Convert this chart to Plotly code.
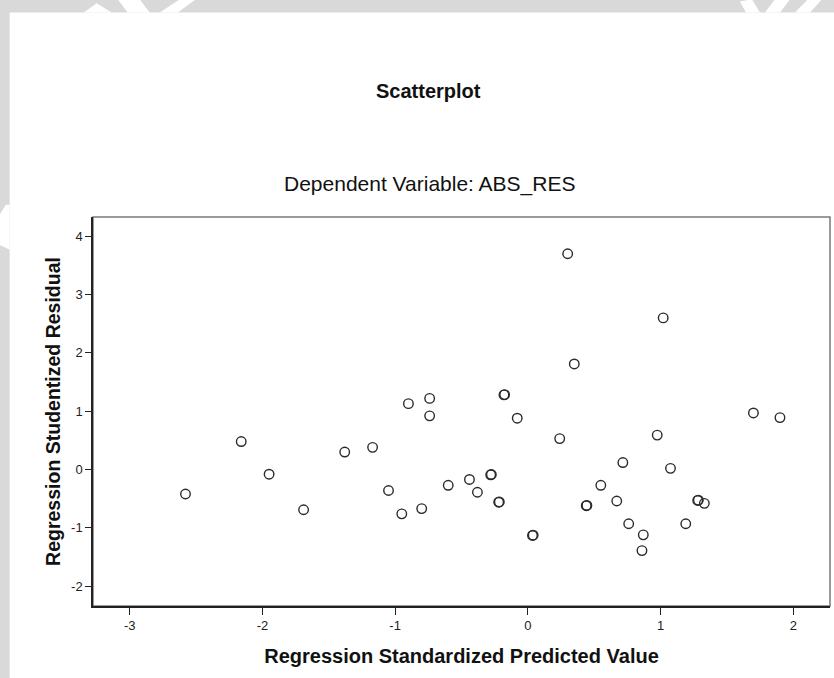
import plotly.graph_objects as go

# Data (x: standardized predicted, y: studentized residual)
pred_x = [-2.58, -2.16, -1.95, -1.69, -1.38, -1.17, -1.05, -0.95, -0.90, -0.74,
          -0.74, -0.80, -0.60, 0.30, 1.02, 0.35, -0.18, -0.08, 0.24, 1.70,
          1.90, 0.975, 0.716, 1.075, -0.44, -0.38, -0.28, -0.22, 0.035, 0.44,
          0.55, 0.67, 0.76, 0.87, 0.86, 1.19, 1.28, 1.33,
          # overlapping (darker) points
          -0.175, -0.275, -0.215, 0.04, 0.445, 1.285]
resid_y = [-0.42, 0.48, -0.08, -0.69, 0.30, 0.38, -0.36, -0.76, 1.13, 1.22,
           0.92, -0.67, -0.27, 3.70, 2.60, 1.81, 1.28, 0.88, 0.53, 0.97,
           0.89, 0.59, 0.12, 0.02, -0.17, -0.39, -0.09, -0.56, -1.13, -0.62,
           -0.27, -0.54, -0.93, -1.12, -1.39, -0.93, -0.53, -0.58,
           1.285, -0.085, -0.555, -1.125, -0.615, -0.525]

x_ticks = [-3, -2, -1, 0, 1, 2]
y_ticks = [-2, -1, 0, 1, 2, 3, 4]

title_text = "Scatterplot"
subtitle_text = "Dependent Variable: ABS_RES"
x_title = "Regression Standardized Predicted Value"
y_title = "Regression Studentized Residual"

FONT = "Liberation Sans, Arial, sans-serif"

fig = go.Figure()
fig.add_trace(go.Scatter(
    x=pred_x, y=resid_y, mode="markers",
    marker=dict(symbol="circle-open", size=9.5, color="#2b2b2b",
                line=dict(width=1.4, color="#2b2b2b")),
    hoverinfo="x+y", showlegend=False,
))

# plot area in pixels: left 93.3, right 830, top 217.3, bottom 605.7
L, R, T, B = 93.3, 830.0, 217.3, 605.7
W, H = R - L, B - T

def px(xp):
    return (xp - L) / W

def py(yp):
    return (B - yp) / H

shapes = []
# white page panel over grey background
shapes.append(dict(type="rect", xref="paper", yref="paper", layer="below",
                   x0=px(10), x1=px(840), y0=py(690), y1=py(13),
                   fillcolor="white", line=dict(width=0)))
# watermark fragments in the grey border
def poly(pts):
    d = "M " + " L ".join(f"{px(a):.4f},{py(b):.4f}" for a, b in pts) + " Z"
    return dict(type="path", xref="paper", yref="paper", layer="below", path=d,
                fillcolor="white", line=dict(width=0))
shapes.append(poly([(84, 13), (97, 4), (112, 13)]))
shapes.append(poly([(118, 0), (140, 0), (150, 13), (128, 13)]))
shapes.append(poly([(160, 13), (180, 0), (196, 0), (178, 13)]))
shapes.append(poly([(740, 2), (752, 0), (760, 13), (746, 13)]))
shapes.append(poly([(765, 13), (775, 0), (790, 0), (780, 13)]))
shapes.append(poly([(795, 13), (808, 0), (822, 0), (810, 13)]))
shapes.append(poly([(0, 215), (6, 205), (10, 205), (10, 250), (0, 245)]))
# grey frame (top/right)
shapes.append(dict(type="rect", xref="paper", yref="paper", layer="below",
                   x0=0, x1=1, y0=0, y1=1, fillcolor="rgba(0,0,0,0)",
                   line=dict(width=1.5, color="#7a7a7a")))

annotations = [
    dict(text=f"<b>{title_text}</b>", xref="paper", yref="paper",
         x=px(429), y=py(91), showarrow=False, xanchor="center", yanchor="middle",
         font=dict(family=FONT, size=20, color="#111")),
    dict(text=subtitle_text, xref="paper", yref="paper",
         x=px(430), y=py(184), showarrow=False, xanchor="center", yanchor="middle",
         font=dict(family=FONT, size=21, color="#111")),
]

fig.update_layout(
    width=834, height=678,
    margin=dict(l=L, r=834 - R, t=T, b=678 - B, pad=0),
    paper_bgcolor="#d9d9d9",
    plot_bgcolor="#f0f0f0",
    font=dict(family=FONT, size=12, color="#222"),
    shapes=shapes,
    annotations=annotations,
    showlegend=False,
)
fig.update_xaxes(
    range=[-3.277, 2.277], tickvals=x_ticks, ticktext=[str(v) for v in x_ticks],
    showgrid=False, zeroline=False, showline=True, linecolor="#222", linewidth=1.5,
    ticks="outside", ticklen=7, tickwidth=1.2, tickcolor="#222",
    tickfont=dict(family=FONT, size=13, color="#222"),
    title=dict(text=f"<b>{x_title}</b>", standoff=17,
               font=dict(family=FONT, size=20, color="#111")),
)
fig.update_yaxes(
    range=[-2.34, 4.33], tickvals=y_ticks, ticktext=[str(v) for v in y_ticks],
    showgrid=False, zeroline=False, showline=True, linecolor="#222", linewidth=1.5,
    ticks="outside", ticklen=6, tickwidth=1.2, tickcolor="#222",
    tickfont=dict(family=FONT, size=13, color="#222"),
    title=dict(text=f"<b>{y_title}</b>", standoff=5,
               font=dict(family=FONT, size=19.5, color="#111")),
)

fig.write_html(
    "out.html",
    config={"displayModeBar": False},
    post_script="document.body.style.margin='0';document.body.style.overflow='hidden';",
)
